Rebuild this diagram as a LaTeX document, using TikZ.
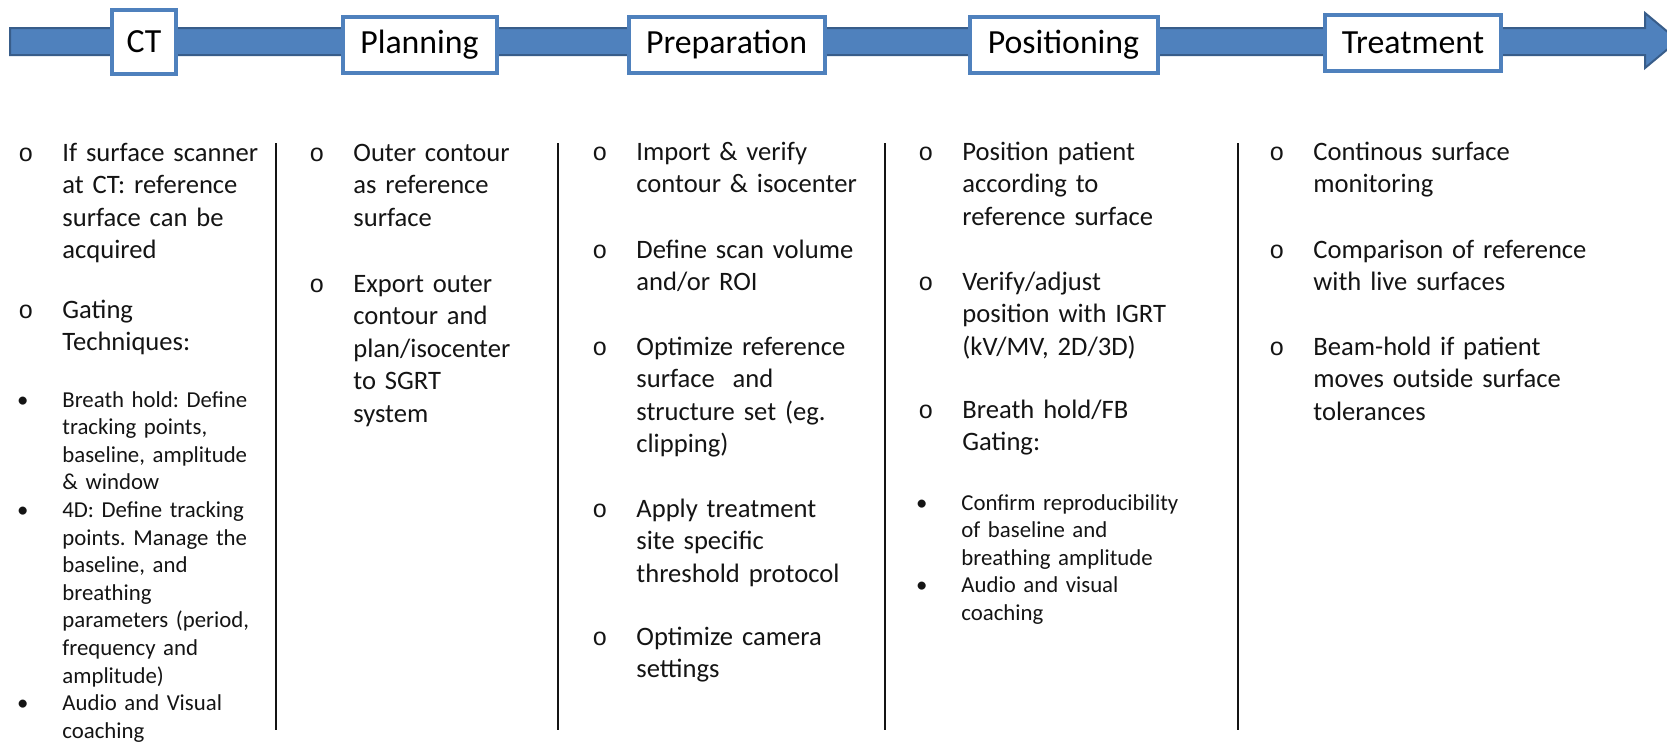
\documentclass[tikz,border=0pt]{standalone}
\usepackage{fontspec}
\setmainfont{Carlito}
\newfontfamily\bulletfont{Liberation Mono}
\usepackage{xcolor}
\usetikzlibrary{positioning}
\definecolor{barblue}{RGB}{79,129,189}
\definecolor{bardark}{RGB}{56,93,138}
\definecolor{txtdark}{RGB}{20,20,20}
\newcommand{\ob}{\leavevmode\llap{\bulletfont\fontsize{12.5}{13}\selectfont o\hspace{14.5pt}}}
\newcommand{\subbul}{\leavevmode\llap{\textbullet\hspace{17pt}}}
\frenchspacing
\tikzset{
  stage/.style={draw=barblue, line width=2pt, fill=white, inner sep=0pt, text=black, font=\fontsize{16.9}{20}\selectfont},
  itm/.style={anchor=base west, inner sep=0pt, text width=170pt, align=left, text=txtdark, font=\fontsize{13.3}{16.25}\selectfont},
  subitm/.style={itm, font=\fontsize{11.4}{13.8}\selectfont},
  divider/.style={line width=1.4pt, draw=txtdark}
}

\begin{document}
\begin{tikzpicture}[x=0.5pt, y=-0.5pt]
\useasboundingbox (0,0) rectangle (1667,741);

% time line
\filldraw[fill=barblue, draw=bardark, line width=1pt]
  (10,28) -- (1645,28) -- (1645,13) -- (1678,40.5) -- (1645,68) -- (1645,55) -- (10,55) -- cycle;

\node[stage, minimum width=32pt, minimum height=32pt] (ct) at (144,42) {CT};
\node[stage, minimum width=77pt, minimum height=28pt] (plan) at (419.5,44.5) {Planning};
\node[stage, minimum width=98pt, minimum height=28pt] (prep) at (726.5,44.5) {Preparation};
\node[stage, minimum width=94pt, minimum height=28pt] (pos) at (1063.5,44.5) {Positioning};
\node[stage, minimum width=88pt, minimum height=28pt] (treat) at (1413,43) {Treatment};

% column separators
\foreach \x in {276,558,885,1238}
  \draw[divider] (\x,143) -- (\x,730);

% CT
\node[itm] (ct1) at (62,161) {\ob If surface scanner\\at CT: reference\\surface can be\\acquired};
\node[itm] (ct2) at (62,318) {\ob Gating\\Techniques:};
\node[subitm] (ct3) at (62,407) {\subbul Breath hold: Define\\tracking points,\\baseline, amplitude\\\& window\\\subbul 4D: Define tracking\\points. Manage the\\baseline, and\\breathing\\parameters (period,\\frequency and\\amplitude)\\\subbul Audio and Visual\\coaching};

% planning
\node[itm] (pl1) at (353,161) {\ob Outer contour\\as reference\\surface};
\node[itm] (pl2) at (353,292) {\ob Export outer\\contour and\\plan/isocenter\\to SGRT\\system};

% preparation
\node[itm] (pr1) at (636,160) {\ob Import \& verify\\contour \& isocenter};
\node[itm] (pr2) at (636,258) {\ob Define scan volume\\and/or ROI};
\node[itm] (pr3) at (636,355) {\ob Optimize reference\\surface\ \ and\\structure set (eg.\\clipping)};
\node[itm] (pr4) at (636,517) {\ob Apply treatment\\site specific\\threshold protocol};
\node[itm] (pr5) at (636,645) {\ob Optimize camera\\settings};

% positioning
\node[itm] (po1) at (962,160) {\ob Position patient\\according to\\reference surface};
\node[itm] (po2) at (962,290) {\ob Verify/adjust\\position with IGRT\\(kV/MV, 2D/3D)};
\node[itm] (po3) at (962,418) {\ob Breath hold/FB\\Gating:};
\node[subitm] (po4) at (961,510) {\subbul Confirm reproducibility\\of baseline and\\breathing amplitude\\\subbul Audio and visual\\coaching};

% treatment
\node[itm] (tr1) at (1313,160) {\ob Continous surface\\monitoring};
\node[itm] (tr2) at (1313,258) {\ob Comparison of reference\\with live surfaces};
\node[itm] (tr3) at (1313,355) {\ob Beam-hold if patient\\moves outside surface\\tolerances};
\end{tikzpicture}
\end{document}
